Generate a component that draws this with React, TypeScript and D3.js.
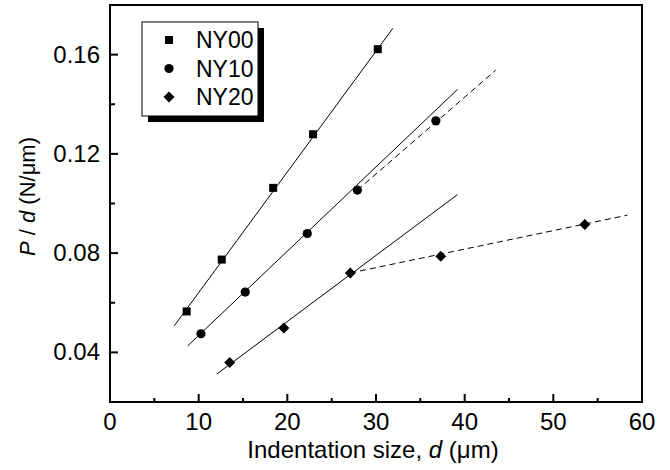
import React from 'react';
import * as d3 from 'd3';

// measured points (d in µm, P/d in N/µm)
const ny00D = [8.65, 12.6, 18.4, 22.9, 30.2];
const ny00P = [0.0565, 0.0774, 0.1063, 0.1279, 0.1622];
const ny10D = [10.26, 15.25, 22.25, 27.9, 36.75];
const ny10P = [0.0475, 0.0643, 0.0879, 0.1054, 0.1333];
const ny20D = [13.5, 19.6, 27.1, 37.3, 53.55];
const ny20P = [0.0359, 0.0498, 0.072, 0.0787, 0.0915];

// fit line end points [d, P/d]
const fit00 = [[7.25, 0.0507], [31.9, 0.1706]];
const fit10 = [[8.76, 0.0426], [39.2, 0.146]];
const fit10Dash = [[27.9, 0.1054], [43.5, 0.1537]];
const fit20 = [[12.06, 0.0313], [39.2, 0.1036]];
const fit20Dash = [[27.1, 0.072], [58.35, 0.0953]];

const xTicks = [0, 10, 20, 30, 40, 50, 60];
const xMinor = [5, 15, 25, 35, 45, 55];
const yTicks = [0.04, 0.08, 0.12, 0.16];
const yMinor = [0.06, 0.1, 0.14];
const legendNames = ['NY00', 'NY10', 'NY20'];

const width = 670;
const height = 470;
const margin = { top: 5, right: 28, bottom: 68, left: 110 };
const font = '"Liberation Sans", Arial, sans-serif';

const x = d3.scaleLinear().domain([0, 60]).range([margin.left, width - margin.right]);
const y = d3.scaleLinear().domain([0.02, 0.18]).range([height - margin.bottom, margin.top]);

const line = d3.line<number[]>().x(d => x(d[0])).y(d => y(d[1]));

const Marker = ({ kind, cx, cy }: { kind: number; cx: number; cy: number }) => {
  if (kind === 0) return <rect x={cx - 4} y={cy - 4} width={8} height={8} fill="#000" />;
  if (kind === 1) return <circle cx={cx} cy={cy} r={4.6} fill="#000" />;
  return <path d={`M${cx},${cy - 5.5}L${cx + 5.5},${cy}L${cx},${cy + 5.5}L${cx - 5.5},${cy}Z`} fill="#000" />;
};

export default function App() {
  const x0 = x(0), x1 = x(60), y0 = y(0.02), y1 = y(0.18);
  const series = [
    { d: ny00D, p: ny00P },
    { d: ny10D, p: ny10P },
    { d: ny20D, p: ny20P },
  ];
  const lx = 142, ly = 22, lw = 116, lh = 94;

  return (
    <div style={{ position: 'absolute', left: 0, top: 0 }}>
      <svg width={width} height={height} style={{ display: 'block', background: '#fff' }} fontFamily={font}>
        {/* fit lines */}
        {[fit00, fit10, fit20].map((f, i) => (
          <path key={'s' + i} d={line(f) || ''} fill="none" stroke="#000" strokeWidth={1} />
        ))}
        {[fit10Dash, fit20Dash].map((f, i) => (
          <path key={'d' + i} d={line(f) || ''} fill="none" stroke="#000" strokeWidth={1} strokeDasharray="6,4" />
        ))}

        {/* points */}
        {series.map((s, k) => s.d.map((dv, i) => (
          <Marker key={k + '-' + i} kind={k} cx={x(dv)} cy={y(s.p[i])} />
        )))}

        {/* frame */}
        <rect x={x0} y={y1} width={x1 - x0} height={y0 - y1} fill="none" stroke="#000" strokeWidth={2} />

        {/* x ticks */}
        {xTicks.map(t => (
          <g key={'xt' + t}>
            <line x1={x(t)} x2={x(t)} y1={y0} y2={y0 - 8} stroke="#000" strokeWidth={2} />
            <text x={x(t)} y={y0 + 28} textAnchor="middle" fontSize={24}>{t}</text>
          </g>
        ))}
        {xMinor.map(t => (
          <line key={'xm' + t} x1={x(t)} x2={x(t)} y1={y0} y2={y0 - 4} stroke="#000" strokeWidth={2} />
        ))}

        {/* y ticks */}
        {yTicks.map(t => (
          <g key={'yt' + t}>
            <line x1={x0} x2={x0 + 8} y1={y(t)} y2={y(t)} stroke="#000" strokeWidth={2} />
            <text x={x0 - 10} y={y(t)} dy="0.33em" textAnchor="end" fontSize={24}>{t.toFixed(2)}</text>
          </g>
        ))}
        {yMinor.map(t => (
          <line key={'ym' + t} x1={x0} x2={x0 + 5} y1={y(t)} y2={y(t)} stroke="#000" strokeWidth={2} />
        ))}

        {/* axis titles */}
        <text x={(x0 + x1) / 2 - 3} y={458} textAnchor="middle" fontSize={24}>
          Indentation size, <tspan fontStyle="italic">d</tspan> (μm)
        </text>
        <text transform={`translate(35, ${(y0 + y1) / 2 - 7}) rotate(-90)`} textAnchor="middle" fontSize={22}>
          <tspan fontStyle="italic">P</tspan> / <tspan fontStyle="italic">d</tspan> (N/μm)
        </text>

        {/* legend */}
        <rect x={lx + 6} y={ly + 6} width={lw} height={lh} fill="#000" />
        <rect x={lx} y={ly} width={lw} height={lh} fill="#fff" stroke="#000" strokeWidth={1} />
        {legendNames.map((n, i) => (
          <g key={n}>
            <Marker kind={i} cx={169} cy={40 + i * 28.5} />
            <text x={196} y={40 + i * 28.5} dy="0.36em" fontSize={23}>{n}</text>
          </g>
        ))}
      </svg>
    </div>
  );
}
